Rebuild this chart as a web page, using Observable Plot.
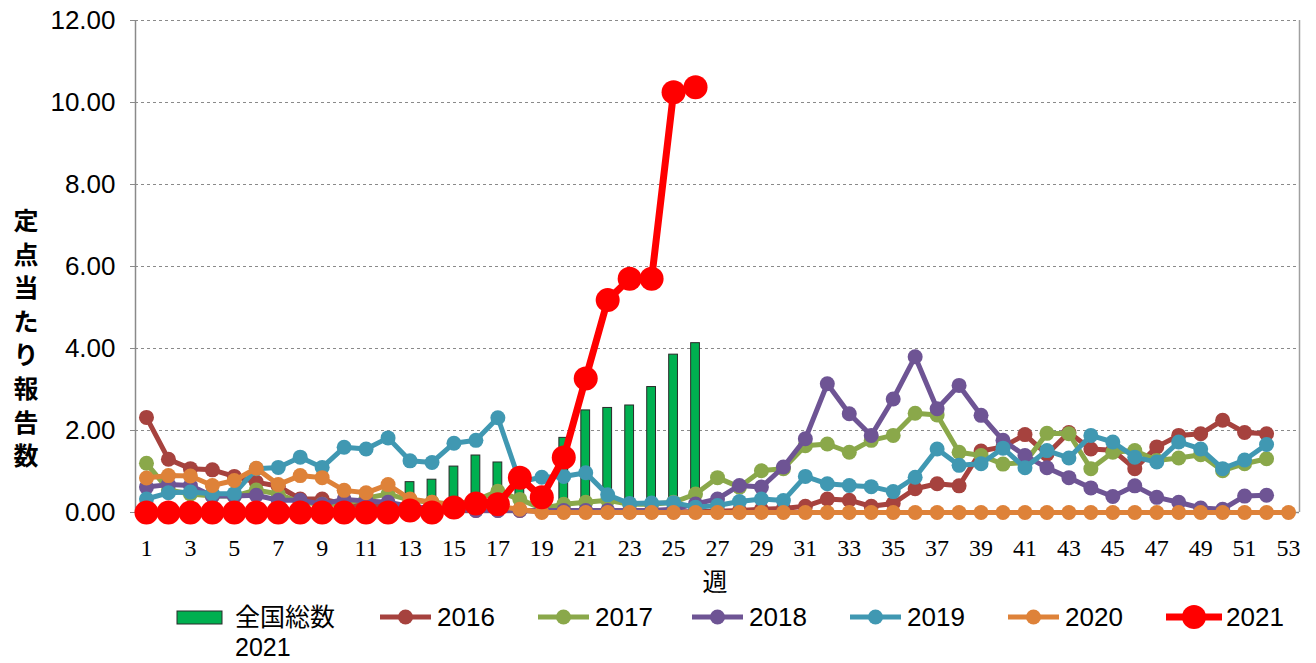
<!DOCTYPE html>
<html><head><meta charset="utf-8">
<script src="https://cdn.jsdelivr.net/npm/d3@7"></script>
<script src="https://cdn.jsdelivr.net/npm/@observablehq/plot@0.6"></script>
<style>
body{margin:0;background:#fff;}
#wrap{position:relative;width:1316px;height:663px;overflow:hidden;font-family:"Liberation Sans",Arial,sans-serif;}
#chart{position:absolute;left:0;top:0;}
.ytitle{position:absolute;left:11px;width:30px;text-align:center;font-family:"Noto Sans CJK JP",sans-serif;font-weight:bold;font-size:25px;line-height:26px;}
#xtitle{position:absolute;left:700px;top:565px;width:30px;text-align:center;font-family:"Noto Sans CJK JP",serif;font-size:25px;line-height:30px;}
#legend{position:absolute;left:0;top:598px;overflow:visible;}
</style></head><body><div id="wrap"><div id="chart"></div><div id="xtitle">週</div><svg id="legend" width="1316" height="65"></svg></div>
<script>
const weeks = [1,2,3,4,5,6,7,8,9,10,11,12,13,14,15,16,17,18,19,20,21,22,23,24,25,26,27,28,29,30,31,32,33,34,35,36,37,38,39,40,41,42,43,44,45,46,47,48,49,50,51,52,53];
const tickWeeks = [1,3,5,7,9,11,13,15,17,19,21,23,25,27,29,31,33,35,37,39,41,43,45,47,49,51,53];
const yTicks = [0,2,4,6,8,10,12];

const v2016 = [2.32,1.30,1.07,1.04,0.88,0.74,0.64,0.33,0.33,0.20,0.15,0.15,0.10,0.05,0.05,0.05,0.05,0.05,0.03,0.03,0.03,0.02,0.02,0.02,0.02,0.02,0.03,0.05,0.08,0.10,0.15,0.33,0.30,0.15,0.22,0.58,0.70,0.65,1.50,1.60,1.90,1.42,1.95,1.55,1.52,1.07,1.60,1.88,1.92,2.25,1.95,1.92];
const v2017 = [1.20,0.55,0.45,0.40,0.40,0.55,0.45,0.25,0.20,0.20,0.35,0.45,0.30,0.25,0.20,0.30,0.52,0.32,0.10,0.20,0.25,0.30,0.20,0.20,0.25,0.45,0.85,0.62,1.02,1.07,1.63,1.67,1.47,1.76,1.88,2.42,2.38,1.47,1.39,1.18,1.22,1.93,1.92,1.07,1.47,1.51,1.27,1.33,1.41,1.02,1.19,1.31];
const v2018 = [0.62,0.68,0.66,0.40,0.40,0.42,0.30,0.30,0.20,0.32,0.28,0.25,0.15,0.10,0.08,0.05,0.05,0.05,0.05,0.05,0.05,0.05,0.05,0.05,0.08,0.21,0.33,0.66,0.62,1.11,1.80,3.14,2.41,1.88,2.77,3.80,2.53,3.10,2.37,1.76,1.39,1.09,0.85,0.60,0.39,0.65,0.37,0.25,0.11,0.08,0.40,0.42];
const v2019 = [0.33,0.48,0.50,0.46,0.46,1.07,1.10,1.35,1.10,1.59,1.55,1.82,1.26,1.22,1.69,1.76,2.31,0.75,0.86,0.88,0.97,0.43,0.22,0.23,0.24,0.13,0.17,0.27,0.33,0.29,0.88,0.70,0.66,0.63,0.51,0.86,1.55,1.15,1.19,1.57,1.09,1.51,1.33,1.88,1.72,1.35,1.23,1.72,1.55,1.07,1.28,1.66];
const v2020 = [0.84,0.90,0.89,0.66,0.78,1.08,0.68,0.90,0.85,0.54,0.48,0.68,0.33,0.25,0.18,0.15,0.15,0.08,0,0,0,0,0,0,0,0,0,0,0,0,0,0,0,0,0,0,0,0,0,0,0,0,0,0,0,0,0,0,0,0,0,0,0];
const v2021 = [0,0,0,0,0,0,0,0,0,0,0,0,0.05,0,0.12,0.22,0.20,0.85,0.37,1.34,3.27,5.18,5.70,5.70,10.25,10.37];

const barWeeks = [13,14,15,16,17,18,19,20,21,22,23,24,25,26];
const barValues = [0.74,0.80,1.12,1.39,1.22,0.80,0.50,1.82,2.49,2.55,2.61,3.06,3.85,4.13];

const seriesNames = ["2016","2017","2018","2019","2020"];
const seriesValues = [v2016,v2017,v2018,v2019,v2020];
const seriesColors = ["#A6423E","#8AA84A","#6E5494","#4098B2","#DE8239"];
const color2021 = "#FF0000";
const barColor = "#00B050";

const bars = barWeeks.map((w,i)=>({week:w, value:barValues[i]}));
const seriesData = seriesNames.map((name,i)=>seriesValues[i].map((v,j)=>({week:weeks[j], value:v, series:name})));
const data2021 = v2021.map((v,j)=>({week:weeks[j], value:v}));

const marks = [
  Plot.ruleY(yTicks.filter(d=>d>0), {stroke:"#8a8a8a", strokeWidth:1, strokeDasharray:"3,3"}),
  Plot.rectY(bars, {x1:d=>d.week-0.2, x2:d=>d.week+0.2, y1:0, y2:"value", fill:barColor, stroke:"#2a2a2a", strokeWidth:1}),
  Plot.ruleX([0.5], {stroke:"#8a8a8a", strokeWidth:1.5}),
  Plot.ruleX([53.5], {stroke:"#a0a0a0", strokeWidth:1.5}),
  Plot.ruleY([0], {stroke:"#8a8a8a", strokeWidth:1.5}),
  Plot.axisY(yTicks, {tickSize:5, tickPadding:15, tickFormat:d=>d.toFixed(2), fontSize:26, fontFamily:"Liberation Sans, Arial, sans-serif", stroke:"#8a8a8a", fill:"#000", label:null}),
  Plot.axisX(tickWeeks, {tickSize:0, tickPadding:26, tickFormat:d=>String(d), fontSize:24, fontFamily:"Liberation Serif, Times New Roman, serif", fill:"#000", label:null})
];
seriesData.forEach((sd,i)=>{
  marks.push(Plot.line(sd, {x:"week", y:"value", stroke:seriesColors[i], strokeWidth:5, strokeLinejoin:"round"}));
  marks.push(Plot.dot(sd, {x:"week", y:"value", r:7.5, fill:seriesColors[i], stroke:"none"}));
});
marks.push(Plot.line(data2021, {x:"week", y:"value", stroke:color2021, strokeWidth:7, strokeLinejoin:"round"}));
marks.push(Plot.dot(data2021, {x:"week", y:"value", r:12, fill:color2021, stroke:"none"}));

const chart = Plot.plot({
  width:1316, height:600,
  marginLeft:135, marginRight:17, marginTop:20, marginBottom:88,
  x:{type:"linear", domain:[0.5,53.5], axis:null},
  y:{type:"linear", domain:[0,12], axis:null},
  style:{background:"#fff", color:"#000", overflow:"visible"},
  marks
});
document.getElementById("chart").appendChild(chart);

// y-axis title (vertical stacked)
const ytitle = "定点当たり報告数";
const wrap = document.getElementById("wrap");
Array.from(ytitle).forEach((ch,i)=>{
  const d = document.createElement("div");
  d.className = "ytitle";
  d.textContent = ch;
  d.style.top = (206 + i*33.6) + "px";
  wrap.appendChild(d);
});

// legend
const svgNS = "http://www.w3.org/2000/svg";
const lg = document.getElementById("legend");
function el(tag, attrs, text){const e=document.createElementNS(svgNS,tag);for(const k in attrs)e.setAttribute(k,attrs[k]);if(text!=null)e.textContent=text;lg.appendChild(e);return e;}
el("rect",{x:177,y:13,width:45,height:13,fill:barColor,stroke:"#2a2a2a","stroke-width":1});
el("text",{x:235,y:28,"font-family":"Noto Sans CJK JP, sans-serif","font-size":25,fill:"#000"},"全国総数");
el("text",{x:235,y:58,"font-family":"Liberation Sans, Arial, sans-serif","font-size":25,fill:"#000"},"2021");
const legendX = [380,538,692,850,1008];
seriesNames.forEach((name,i)=>{
  const x0 = legendX[i];
  el("line",{x1:x0,y1:19,x2:x0+51,y2:19,stroke:seriesColors[i],"stroke-width":5});
  el("circle",{cx:x0+25.5,cy:19,r:7.5,fill:seriesColors[i]});
  el("text",{x:x0+57,y:28,"font-family":"Liberation Sans, Arial, sans-serif","font-size":26,fill:"#000"},name);
});
el("line",{x1:1166,y1:19,x2:1222,y2:19,stroke:color2021,"stroke-width":7});
el("circle",{cx:1194,cy:19,r:12,fill:color2021});
el("text",{x:1226,y:28,"font-family":"Liberation Sans, Arial, sans-serif","font-size":26,fill:"#000"},"2021");
</script></body></html>
